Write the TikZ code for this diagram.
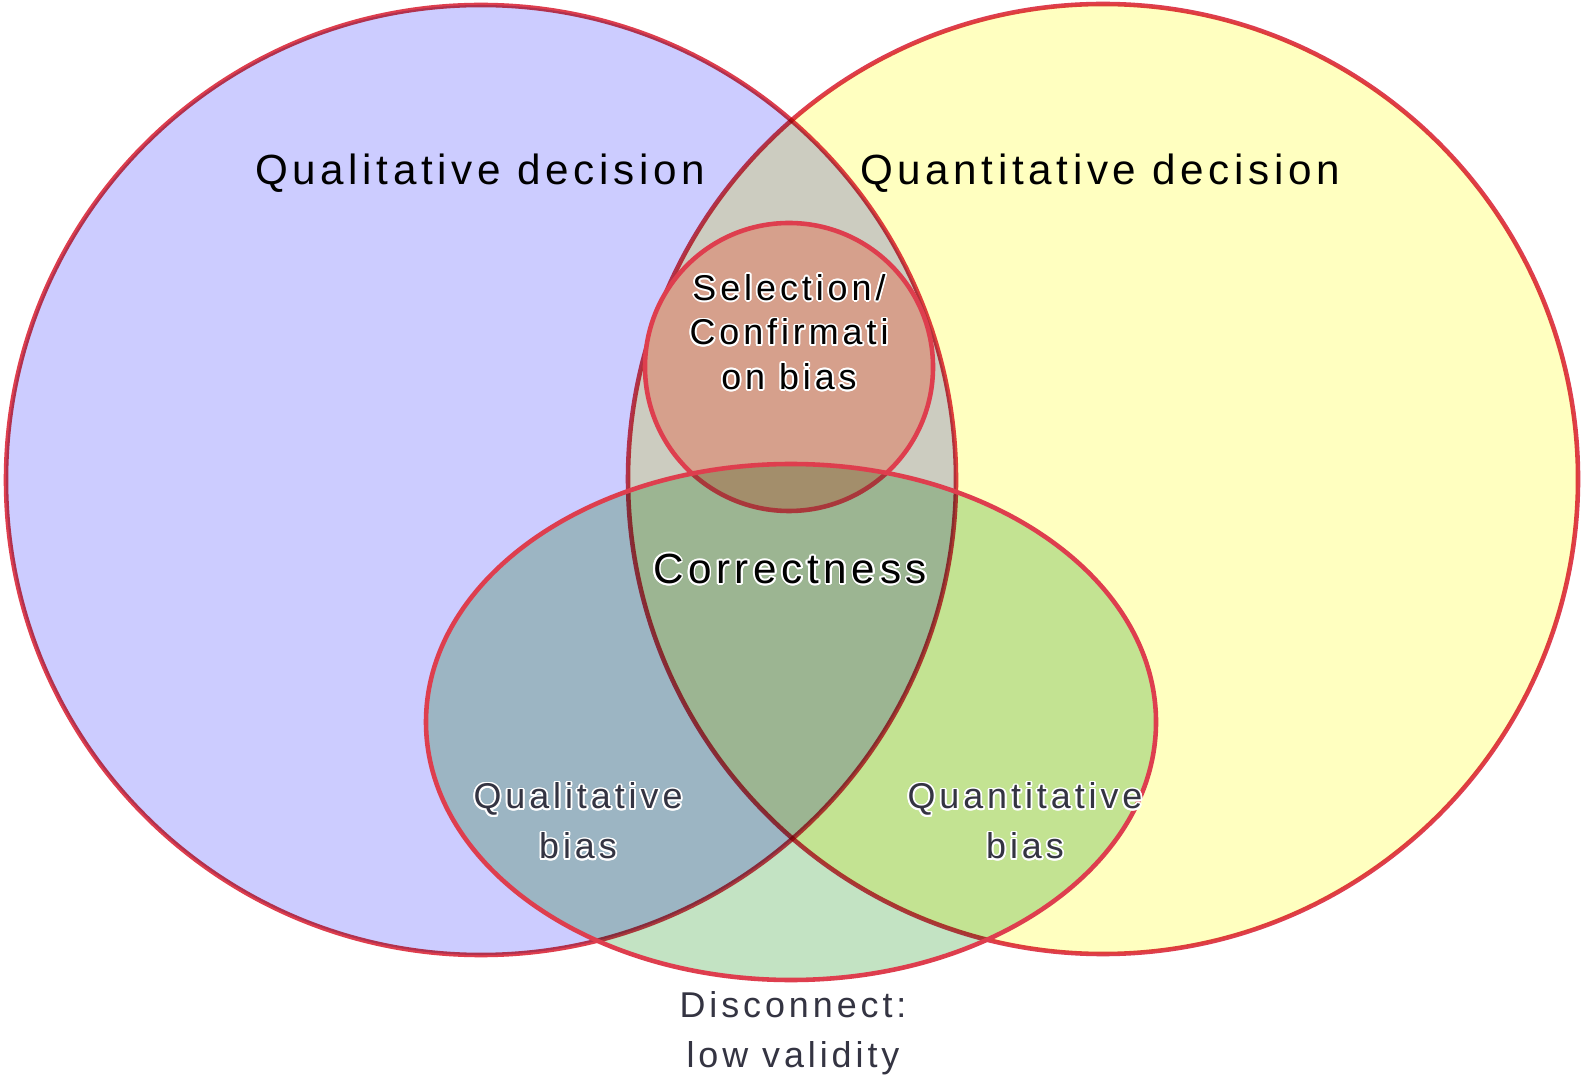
\documentclass[tikz,border=0pt]{standalone}
\usepackage{fontspec}
\setmainfont[LetterSpace=11]{Liberation Sans}
\usepackage{contour}
\contourlength{0.5pt}
\usetikzlibrary{shapes.geometric}
\definecolor{ringred}{RGB}{222,62,78}
\definecolor{qualblue}{RGB}{204,204,255}
\definecolor{quanyellow}{RGB}{255,255,192}
\definecolor{correctgreen}{RGB}{195,227,195}
\definecolor{biassalmon}{RGB}{214,160,140}
\definecolor{labelgray}{RGB}{52,52,66}
\newcommand{\halo}[1]{\contour{white}{#1}}
\tikzset{
    ring/.style={draw=ringred,line width=1.3pt},
    toplabel/.style={font=\fontsize{12}{14}\selectfont,text=black,align=center},
    lowlabel/.style={font=\fontsize{10.2}{14.2}\selectfont,text=labelgray,align=center}
}

\begin{document}
\begin{tikzpicture}[x=0.01cm,y=-0.01cm]
    \useasboundingbox (0,0) rectangle (1583,1080);
    \fill[white] (0,0) rectangle (1583,1080);
    \path[ring,fill=qualblue,blend mode=multiply] (481,480) circle [radius=475];
    \path[ring,fill=quanyellow,blend mode=multiply] (1103,479) circle [radius=475];
    \path[ring,fill=biassalmon] (789,367) circle [radius=144];
    \fill[correctgreen,blend mode=multiply] (791,722) ellipse [x radius=365,y radius=258];
    \draw[ring] (791,722) ellipse [x radius=365,y radius=258];
    \node[toplabel] (qualdec) at (480,173) {Qualitative decision};
    \node[toplabel] (quandec) at (1100,173) {Quantitative decision};
    \node[lowlabel,text=black,font=\fontsize{10.2}{12.7}\selectfont] (selbias) at (789,333)
        {\halo{Selection/}\\\halo{Confirmati}\\\halo{on bias}};
    \node[toplabel] (correct) at (790,570) {\halo{Correctness}};
    \node[lowlabel] (qualbias) at (578,822) {\halo{Qualitative}\\\halo{bias}};
    \node[lowlabel] (quanbias) at (1025,822) {\halo{Quantitative}\\\halo{bias}};
    \node[lowlabel] (disconnect) at (793,1033) {Disconnect:\\low validity};
\end{tikzpicture}
\end{document}
